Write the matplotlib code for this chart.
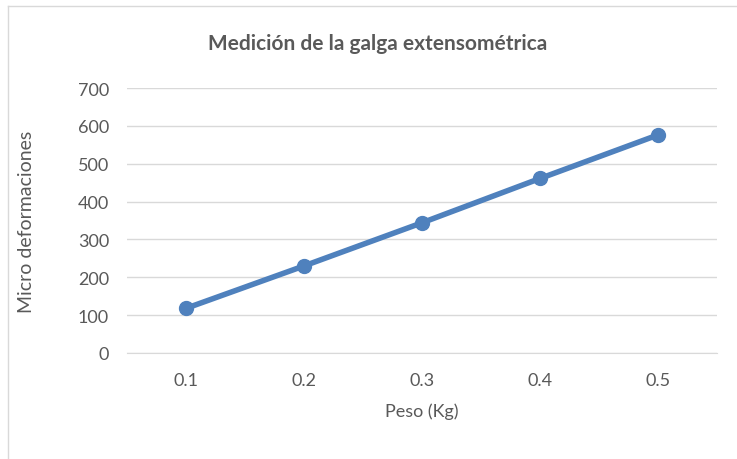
import matplotlib
matplotlib.use("Agg")
import matplotlib.pyplot as plt
from matplotlib.lines import Line2D

categories = ["0.1", "0.2", "0.3", "0.4", "0.5"]
values = [118, 230, 344, 461, 576]
yticks = [0, 100, 200, 300, 400, 500, 600, 700]

plt.rcParams['font.family'] = ['Lato', 'DejaVu Sans']
fig = plt.figure(figsize=(7.37, 4.6), dpi=100)
ax = fig.add_axes([127/737, 1-354/460, (717-127)/737, (354-89)/460])

x = list(range(len(categories)))
ax.plot(x, values, color="#4f81bd", linewidth=4, marker="o", markersize=10, solid_capstyle="round", zorder=3)
ax.set_xlim(-0.5, len(categories)-0.5)
ax.set_ylim(0, 700)
ax.set_yticks(yticks)
ax.set_xticks(x)
ax.set_xticklabels(categories)
ax.grid(axis="y", color="#d9d9d9", linewidth=1)
ax.set_axisbelow(True)
for s in ["top", "right", "left"]:
    ax.spines[s].set_visible(False)
ax.spines["bottom"].set_color("#d9d9d9")
ax.tick_params(axis="both", length=0, labelsize=13, colors="#595959")
ax.tick_params(axis="y", pad=13)
ax.tick_params(axis="x", pad=14)

fig.text(378/737, 1-44/460, "Medición de la galga extensométrica", ha="center", va="center",
         fontsize=15, fontweight="bold", color="#595959")
fig.text(27/737, 1-222/460, "Micro deformaciones", rotation=90, ha="center", va="center",
         fontsize=14, color="#595959")
fig.text(422/737, 1-412/460, "Peso (Kg)", ha="center", va="center", fontsize=13, color="#595959")

fig.add_artist(Line2D([8/737, 8/737], [0, 1-7/460], transform=fig.transFigure, color="#d9d9d9", linewidth=1))
fig.add_artist(Line2D([8/737, 1], [1-7/460, 1-7/460], transform=fig.transFigure, color="#d9d9d9", linewidth=1))

fig.savefig("out.png", dpi=100)
